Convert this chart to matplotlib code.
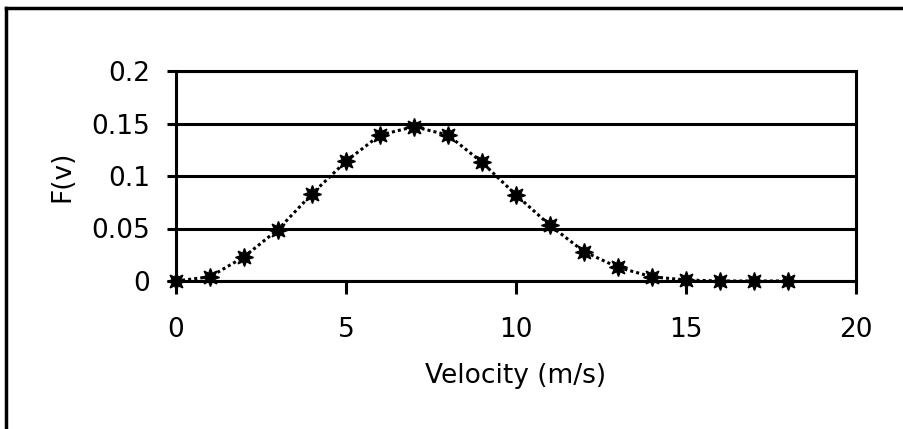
import matplotlib
matplotlib.use("Agg")
import matplotlib.pyplot as plt
from matplotlib.lines import Line2D

velocity = [0, 1, 2, 3, 4, 5, 6, 7, 8, 9, 10, 11, 12, 13, 14, 15, 16, 17, 18]
fv = [0.0, 0.004, 0.023, 0.049, 0.083, 0.114, 0.139, 0.147, 0.139, 0.113,
      0.082, 0.053, 0.028, 0.013, 0.004, 0.001, 0.0, 0.0, 0.0]
x_ticks = [0, 5, 10, 15, 20]
y_ticks = [0, 0.05, 0.1, 0.15, 0.2]
y_tick_labels = ["0", "0.05", "0.1", "0.15", "0.2"]

plt.rcParams['font.family'] = ['DejaVu Sans']

fig = plt.figure(figsize=(9.04, 4.29), dpi=100)
ax = fig.add_axes([176/904, 1 - 281/429, (856 - 176)/904, (281 - 71)/429])

ax.plot(velocity, fv, color='black', linestyle=(0, (1, 1)), linewidth=2.2,
        marker=(8, 1, 0), markersize=13, markerfacecolor='black',
        markeredgecolor='black', zorder=3, clip_on=False)

ax.set_xlim(0, 20)
ax.set_ylim(0, 0.2)
ax.set_xticks(x_ticks)
ax.set_xticklabels([str(t) for t in x_ticks])
ax.set_yticks(y_ticks)
ax.set_yticklabels(y_tick_labels)

ax.yaxis.grid(True, color='black', linewidth=2.2)
ax.set_axisbelow(True)
for s in ax.spines.values():
    s.set_linewidth(2.2)
    s.set_color('black')

ax.tick_params(axis='x', direction='out', length=9, width=2.2, pad=17, labelsize=19)
ax.tick_params(axis='y', direction='out', length=6.5, width=2.2, pad=12, labelsize=19)

ax.set_xlabel("Velocity (m/s)", fontsize=19, labelpad=14)
ax.set_ylabel("F(v)", fontsize=19, labelpad=12)

# outer frame (top and left edges)
fig.add_artist(Line2D([6/904, 1.0], [1 - 8/429, 1 - 8/429], transform=fig.transFigure,
                      color='black', linewidth=2.5))
fig.add_artist(Line2D([6/904, 6/904], [0.0, 1 - 8/429], transform=fig.transFigure,
                      color='black', linewidth=2.5))

fig.savefig("out.png", dpi=100)
